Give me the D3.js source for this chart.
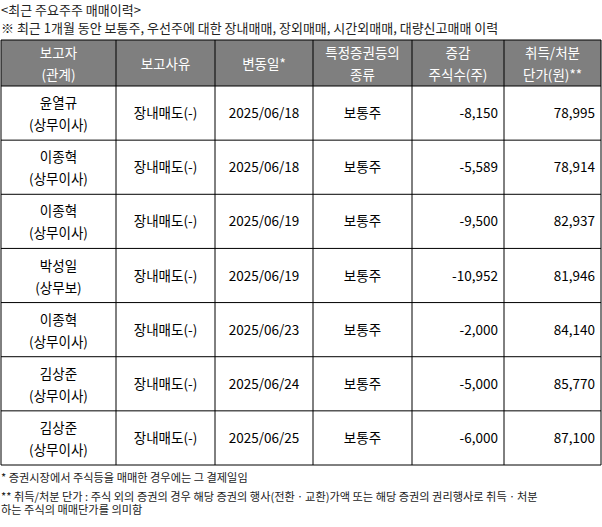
<!DOCTYPE html>
<html><head><meta charset="utf-8">
<script src="https://cdn.jsdelivr.net/npm/d3@7"></script>
<style>body{margin:0;background:#fff}text{font-family:"Noto Sans CJK KR","Noto Sans",sans-serif}</style>
</head><body><svg id="c" width="602" height="527"></svg>
<script>
const headers=[["보고자","(관계)"],["보고사유"],["변동일*"],["특정증권등의","종류"],["증감","주식수(주)"],["취득/처분","단가(원)**"]];
const names=["윤열규","이종혁","이종혁","박성일","이종혁","김상준","김상준"];
const roles=["(상무이사)","(상무이사)","(상무이사)","(상무보)","(상무이사)","(상무이사)","(상무이사)"];
const reasons=["장내매도(-)","장내매도(-)","장내매도(-)","장내매도(-)","장내매도(-)","장내매도(-)","장내매도(-)"];
const dates=["2025/06/18","2025/06/18","2025/06/19","2025/06/19","2025/06/23","2025/06/24","2025/06/25"];
const kinds=["보통주","보통주","보통주","보통주","보통주","보통주","보통주"];
const changes=[-8150,-5589,-9500,-10952,-2000,-5000,-6000];
const prices=[78995,78914,82937,81946,84140,85770,87100];

const svg=d3.select("#c");
const colEdges=[1,116,215,313,412,504,601];
const x=i=>colEdges[i];
const y=d3.scaleBand().domain(d3.range(7)).range([86,465]);
const topY=40,fs=13.5,fmt=d3.format(",");
svg.append("text").attr("x",1).attr("y",15).attr("font-size",13).attr("fill","#222").text("<최근 주요주주 매매이력>");
svg.append("text").attr("x",1).attr("y",33).attr("font-size",13).attr("fill","#222").text("※ 최근 1개월 동안 보통주, 우선주에 대한 장내매매, 장외매매, 시간외매매, 대량신고매매 이력");
svg.append("rect").attr("x",1).attr("y",topY).attr("width",600).attr("height",46).attr("fill","#7f7f7f");
headers.forEach((h,i)=>{
  const cx=(x(i)+x(i+1))/2;
  h.forEach((t,j)=>svg.append("text").attr("x",cx).attr("y",h.length>1?topY+18+j*22:topY+29)
    .attr("text-anchor","middle").attr("font-size",fs).attr("fill","#fff").text(t));
});
d3.range(7).forEach(r=>{
  const y0=y(r),bw=y.bandwidth(),cy=y0+bw/2;
  const c=i=>(x(i)+x(i+1))/2;
  svg.append("text").attr("x",c(0)).attr("y",cy-5).attr("text-anchor","middle").attr("font-size",fs).text(names[r]);
  svg.append("text").attr("x",c(0)).attr("y",cy+17).attr("text-anchor","middle").attr("font-size",fs).text(roles[r]);
  svg.append("text").attr("x",c(1)).attr("y",cy+5).attr("text-anchor","middle").attr("font-size",fs).text(reasons[r]);
  svg.append("text").attr("x",c(2)).attr("y",cy+5).attr("text-anchor","middle").attr("font-size",fs).text(dates[r]);
  svg.append("text").attr("x",c(3)).attr("y",cy+5).attr("text-anchor","middle").attr("font-size",fs).text(kinds[r]);
  svg.append("text").attr("x",x(5)-6).attr("y",cy+5).attr("text-anchor","end").attr("font-size",fs).text(fmt(changes[r]).replace("−","-"));
  svg.append("text").attr("x",x(6)-6).attr("y",cy+5).attr("text-anchor","end").attr("font-size",fs).text(fmt(prices[r]));
  svg.append("line").attr("x1",1).attr("x2",601).attr("y1",y0+bw).attr("y2",y0+bw).attr("stroke","#000");
});
colEdges.forEach(e=>svg.append("line").attr("x1",e).attr("x2",e).attr("y1",topY).attr("y2",465).attr("stroke","#000"));
svg.append("line").attr("x1",1).attr("x2",601).attr("y1",topY).attr("y2",topY).attr("stroke","#000");
svg.append("line").attr("x1",1).attr("x2",601).attr("y1",86).attr("y2",86).attr("stroke","#000");
const notes=["* 증권시장에서 주식등을 매매한 경우에는 그 결제일임","** 취득/처분 단가 : 주식 외의 증권의 경우 해당 증권의 행사(전환ㆍ교환)가액 또는 해당 증권의 권리행사로 취득ㆍ처분","하는 주식의 매매단가를 의미함"];
[482,501,514].forEach((yy,i)=>svg.append("text").attr("x",1).attr("y",yy).attr("font-size",11.2).attr("fill","#222").text(notes[i]));
</script></body></html>
